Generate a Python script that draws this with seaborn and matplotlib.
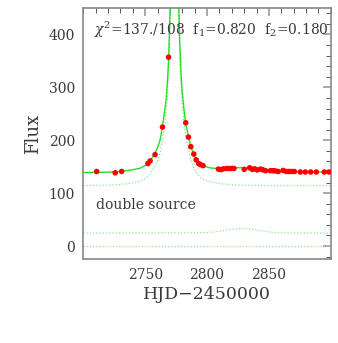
import matplotlib
matplotlib.use("Agg")
import matplotlib.pyplot as plt
import seaborn as sns
import pandas as pd
from matplotlib.ticker import MultipleLocator

# ---- data ----
# observed photometry (HJD-2450000, flux)
obs_t = [2710.8, 2725.8, 2731.0, 2752.2, 2754.0, 2758.0, 2764.0, 2768.9,
         2782.8, 2785.0, 2786.9, 2789.3, 2791.2, 2793.3, 2794.7, 2796.8,
         2809.2, 2811.3, 2813.2, 2815.9, 2818.3, 2820.2, 2821.8, 2830.1,
         2834.4, 2836.6, 2838.5, 2840.6, 2843.3, 2845.2, 2847.3, 2851.3,
         2853.4, 2855.3, 2857.5, 2861.5, 2863.9, 2866.0, 2868.2, 2870.6,
         2875.4, 2879.5, 2883.8, 2888.3, 2894.8, 2898.5]
obs_f = [141, 138.5, 141, 156, 161, 173, 225, 357,
         233, 206, 188, 174, 163, 156, 154, 152,
         145.5, 144.5, 146, 146.7, 146.7, 146.7, 146.7, 145,
         148, 145, 146, 144, 145.5, 144.2, 142.5, 142.5,
         142.5, 142, 141, 143, 141, 141, 141, 141,
         140, 140, 140, 140, 140, 140]

# model curves
model_t = [2700, 2710, 2720, 2730, 2738, 2745.7, 2750.6, 2754, 2757.8, 2760,
           2762, 2764, 2766, 2767, 2768, 2769, 2770.2, 2771, 2772, 2773.7,
           2775.4, 2776.2, 2776.7, 2777.2, 2778, 2779, 2779.8, 2780.6, 2781.5,
           2782.8, 2785, 2786.9, 2790, 2793, 2795.5, 2802, 2806, 2810, 2815,
           2820, 2825, 2830, 2835, 2840, 2845, 2850, 2856, 2862, 2870, 2880,
           2890, 2900]
model_total = [139, 139.3, 139.8, 141, 143.5, 147, 153, 161, 175, 186,
               200, 225, 260, 278, 310, 355, 450, 540, 680, 950,
               680, 560, 500, 450, 380, 325, 295, 276, 255,
               232, 207, 188, 169, 159, 153, 148, 147, 146.5, 147,
               147.7, 148.1, 148, 147.1, 145.5, 144, 142, 141, 140.5, 140.2, 140,
               139.8, 139.6]
source1 = [114.3, 114.6, 115.1, 116.3, 118.8, 122.3, 128.3, 136.3, 150.3, 161,
           175, 200, 235, 253, 285, 330, 425, 515, 655, 925,
           655, 535, 475, 425, 355, 300, 270, 251, 230,
           207, 182, 163, 144, 133.8, 127.7, 122.2, 120.2, 118.5, 117,
           115.9, 115.3, 115, 114.8, 114.6, 114.5, 114.4, 114.3, 114.3, 114.3, 114.3,
           114.3, 114.3]
source2 = [24.7, 24.7, 24.7, 24.7, 24.7, 24.7, 24.7, 24.7, 24.7, 25,
           25, 25, 25, 25, 25, 25, 25, 25, 25, 25,
           25, 25, 25, 25, 25, 25, 25, 25, 25,
           25, 25, 25, 25, 25.2, 25.3, 25.8, 26.8, 28, 30,
           31.8, 32.8, 33, 32.3, 30.5, 28.5, 26.8, 25.5, 25, 24.8, 24.7,
           24.7, 24.7]
zero_t = [2700, 2900]
zero_f = [0, 0]

annot = r"$\chi^2$=137./108  f$_1$=0.820  f$_2$=0.180"
label_src = "double source"
xlabel = "HJD\u22122450000"
ylabel = "Flux"

# ---- plotting ----
sns.set_style("white")
plt.rcParams["font.family"] = ["DejaVu Serif"]
plt.rcParams["mathtext.fontset"] = "dejavuserif"

fig = plt.figure(figsize=(3.38, 3.43), dpi=100)
ax = fig.add_axes([0.2465, 0.244, 0.732, 0.7327])

df_model = pd.DataFrame({"t": model_t, "total": model_total,
                         "s1": source1, "s2": source2})
dot_style = dict(color="#8ae88a", linewidth=0.9, linestyle=(0, (1, 1.6)))

sns.lineplot(data=df_model, x="t", y="s1", ax=ax, sort=False,
             estimator=None, **dot_style)
sns.lineplot(data=df_model, x="t", y="s2", ax=ax, sort=False,
             estimator=None, **dot_style)
sns.lineplot(x=zero_t, y=zero_f, ax=ax, sort=False, estimator=None,
             **dot_style)
sns.lineplot(data=df_model, x="t", y="total", ax=ax, sort=False,
             estimator=None, color="#22e022", linewidth=1.0)
sns.scatterplot(x=obs_t, y=obs_f, ax=ax, color="red", s=16,
                edgecolor="none", zorder=5)

ax.set_xlim(2700, 2900)
ax.set_ylim(-25, 450)

ax.xaxis.set_major_locator(MultipleLocator(50))
ax.xaxis.set_minor_locator(MultipleLocator(10))
ax.yaxis.set_major_locator(MultipleLocator(100))
ax.yaxis.set_minor_locator(MultipleLocator(20))
ax.set_xticks([2750, 2800, 2850])

txtc = "#3a3a3a"
ax.tick_params(which="both", direction="in", top=True, right=True,
               labelsize=10, labelcolor=txtc)
ax.tick_params(which="major", length=6, width=1.4, color="#aaaaaa", pad=6)
ax.tick_params(which="minor", length=3.5, width=0.7, color="#555555")

for sp in ax.spines.values():
    sp.set_color("#888888")
    sp.set_linewidth(1.2)

ax.set_xlabel(xlabel, fontsize=12.5, color=txtc, labelpad=3)
ax.set_ylabel(ylabel, fontsize=13, color=txtc, labelpad=5)

ax.text(2709, 409, annot, fontsize=10, color=txtc, va="center", ha="left")
ax.text(2710, 77, label_src, fontsize=10, color=txtc, va="center", ha="left")

fig.savefig("out.png", dpi=100)
